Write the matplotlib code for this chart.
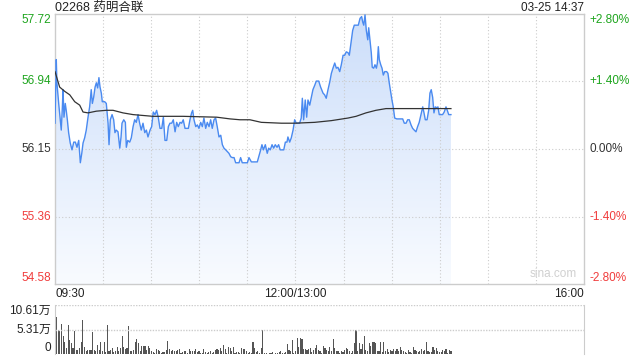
import numpy as np
import matplotlib
matplotlib.use("Agg")
import matplotlib.pyplot as plt
from matplotlib.patches import Polygon

plt.rcParams['font.family'] = ['Liberation Sans', 'Noto Sans CJK SC', 'DejaVu Sans']

# --- data ---
title = "02268 药明合联"
stamp = "03-25 14:37"
prev_close = 56.15
price_ticks = [57.72, 56.94, 56.15, 55.36, 54.58]
pct_ticks = ["+2.80%", "+1.40%", "0.00%", "-1.40%", "-2.80%"]
time_labels = ["09:30", "12:00/13:00", "16:00"]
vol_ticks = ["10.61万", "5.31万", "0"]
vol_max = 10.61

# minutes from 09:30 (lunch break removed), price
t_price = [0.0, 0.8, 1.2, 2.3, 3.3, 3.9, 4.6, 5.0, 5.6, 6.4, 7.0, 7.7, 8.5, 9.5, 10.6,
           11.7, 12.7, 13.7, 14.8, 15.8, 16.7, 17.5, 18.5, 19.5, 20.6, 21.6, 22.6, 23.3,
           24.1, 25.0, 25.8, 26.6, 27.4, 28.1, 28.9, 29.5, 31.0, 32.0, 33.1, 33.7, 34.5,
           35.6, 36.6, 37.4, 38.2, 39.3, 40.4, 41.2, 41.8, 42.9, 43.9, 44.5, 45.4, 46.6,
           47.6, 48.7, 49.7, 50.7, 51.8, 52.8, 53.8, 54.9, 56.0, 57.0, 58.0, 59.3, 60.3,
           61.3, 62.4, 63.4, 64.4, 65.5, 66.6, 67.6, 68.6, 69.7, 70.7, 71.7, 72.8, 73.8,
           74.9, 75.9, 76.9, 78.0, 79.0, 80.0, 81.1, 82.1, 83.2, 84.2, 85.2, 85.9, 86.7,
           87.8, 88.8, 89.8, 90.9, 91.9, 92.9, 94.0, 95.0, 96.1, 97.1, 98.1, 99.2, 100.2,
           101.2, 102.3, 103.4, 104.4, 105.4, 106.5, 107.5, 108.5, 109.6, 110.6, 111.7,
           112.7, 113.7, 114.8, 115.8, 116.8, 117.9, 119.0, 120.0, 121.0, 122.5, 124.6,
           126.2, 127.1, 128.3, 129.1, 130.0, 131.2, 132.4, 133.3, 134.3, 135.4, 136.4,
           137.4, 138.5, 139.5, 140.5, 141.6, 142.7, 143.7, 144.7, 145.3, 146.4, 147.4,
           148.5, 149.5, 150.5, 151.6, 152.6, 153.6, 154.3, 155.1, 156.1, 157.0, 157.8,
           158.9, 159.9, 160.9, 162.0, 163.0, 164.5, 165.7, 167.2, 168.2, 169.2, 170.3,
           171.4, 172.4, 173.4, 174.5, 175.5, 176.5, 177.6, 178.6, 179.7, 180.7, 181.7,
           182.8, 183.6, 184.6, 185.7, 186.7, 187.8, 189.2, 190.3, 191.3, 191.9, 192.6,
           193.4, 194.2, 195.1, 195.7, 196.5, 197.3, 197.9, 198.8, 199.6, 200.5, 201.1,
           201.7, 202.3, 203.2, 204.0, 204.8, 205.7, 206.9, 207.7, 208.5, 209.4, 210.2,
           211.0, 211.9, 213.2, 214.4, 215.8, 216.9, 217.9, 219.0, 220.0, 221.0, 222.1,
           223.1, 224.1, 225.2, 226.2, 227.2, 228.3, 229.4, 230.2, 231.0, 232.1, 233.1,
           233.9, 234.7, 235.6, 236.4, 237.2, 238.1, 238.9, 239.7, 240.8, 241.8, 242.8,
           243.9, 244.7, 245.6, 247.0]
price = [56.45, 57.19, 56.92, 56.68, 56.49, 56.37, 56.64, 56.84, 56.52, 56.68, 56.60, 56.49,
         56.34, 56.22, 56.14, 56.23, 56.23, 56.17, 56.25, 55.99, 56.10, 56.22, 56.28, 56.37,
         56.52, 56.64, 56.84, 56.68, 56.75, 56.87, 56.92, 56.86, 56.98, 56.87, 56.80, 56.70,
         56.70, 56.68, 56.45, 56.20, 56.49, 56.55, 56.49, 56.34, 56.37, 56.35, 56.16, 56.29,
         56.45, 56.49, 56.46, 56.17, 56.25, 56.23, 56.28, 56.41, 56.49, 56.46, 56.55, 56.45,
         56.37, 56.45, 56.34, 56.37, 56.29, 56.37, 56.41, 56.58, 56.55, 56.60, 56.52, 56.39,
         56.39, 56.52, 56.25, 56.25, 56.41, 56.45, 56.45, 56.49, 56.35, 56.46, 56.41, 56.46,
         56.45, 56.49, 56.39, 56.39, 56.39, 56.49, 56.57, 56.60, 56.49, 56.41, 56.43, 56.39,
         56.46, 56.41, 56.51, 56.39, 56.46, 56.41, 56.49, 56.39, 56.49, 56.51, 56.41, 56.29,
         56.31, 56.20, 56.16, 56.14, 56.12, 56.10, 56.06, 56.05, 56.05, 55.99, 55.99, 55.99,
         56.05, 55.99, 55.99, 55.99, 55.99, 56.05, 56.00, 56.00, 56.00, 56.06, 56.14, 56.20,
         56.14, 56.20, 56.10, 56.16, 56.14, 56.20, 56.16, 56.20, 56.17, 56.20, 56.14, 56.14,
         56.14, 56.23, 56.23, 56.29, 56.23, 56.28, 56.37, 56.49, 56.45, 56.45, 56.45, 56.51,
         56.74, 56.49, 56.72, 56.52, 56.72, 56.66, 56.75, 56.84, 56.89, 56.94, 56.94, 56.87,
         56.80, 56.78, 56.74, 56.84, 56.93, 57.03, 57.09, 57.15, 57.09, 57.10, 57.05, 57.13,
         57.24, 57.24, 57.28, 57.27, 57.24, 57.38, 57.53, 57.59, 57.59, 57.59, 57.67, 57.69,
         57.63, 57.59, 57.71, 57.53, 57.42, 57.56, 57.42, 57.27, 57.10, 57.09, 57.13, 57.09,
         57.15, 57.34, 57.19, 57.13, 57.09, 57.01, 57.05, 57.05, 57.03, 56.92, 56.81, 56.72,
         56.64, 56.51, 56.50, 56.50, 56.50, 56.50, 56.45, 56.45, 56.49, 56.49, 56.43, 56.39,
         56.37, 56.35, 56.41, 56.46, 56.55, 56.64, 56.57, 56.49, 56.49, 56.60, 56.80, 56.84,
         56.75, 56.57, 56.64, 56.63, 56.64, 56.55, 56.55, 56.55, 56.58, 56.64, 56.60, 56.55,
         56.55]

# average price line
t_avg = [0.0, 2.9, 6.1, 9.2, 12.3, 15.4, 17.5, 20.6, 25.8, 32.0, 36.2, 42.4, 48.7, 54.9,
         61.1, 79.8, 100.9, 109.2, 115.4, 121.6, 128.7, 141.2, 149.5, 162.0, 172.4, 182.8,
         187.8, 194.0, 200.2, 206.5, 212.7, 223.1, 247.0]
avg = [57.05, 56.87, 56.82, 56.78, 56.70, 56.66, 56.58, 56.57, 56.59, 56.60, 56.60, 56.57,
       56.55, 56.54, 56.53, 56.53, 56.52, 56.50, 56.49, 56.49, 56.46, 56.45, 56.45, 56.46,
       56.48, 56.51, 56.53, 56.57, 56.60, 56.62, 56.62, 56.62, 56.62]

# per-minute volume, in 万 shares
volume = [10.6, 8.1, 5.2, 4.9, 6.5, 3.8, 2.7, 1.4, 6.3, 3.1, 2.4, 1.3, 4.9, 0.8, 0.9, 1.3,
          2.5, 7.4, 1.6, 0.6, 0.8, 0.9, 0.8, 4.7, 0.9, 0.6, 2.0, 0.9, 2.7, 0.6, 2.5, 0.4,
          6.3, 0.6, 0.9, 1.4, 0.4, 0.6, 1.6, 0.6, 1.3, 3.9, 1.6, 1.1, 1.3, 6.1, 0.6, 0.6,
          0.8, 2.7, 3.2, 2.4, 0.6, 1.8, 1.8, 1.8, 0.9, 1.8, 1.3, 0.6, 0.4, 0.2, 1.1, 0.8,
          0.6, 0.2, 0.4, 0.4, 0.8, 2.9, 1.1, 0.6, 0.9, 0.6, 0.7, 0.9, 1.1, 0.2, 0.4, 0.7,
          0.6, 0.2, 1.1, 0.6, 0.7, 0.6, 1.1, 0.4, 0.7, 0.2, 0.2, 1.1, 0.4, 0.2, 0.4, 0.6,
          0.2, 0.4, 0.9, 1.1, 0.9, 1.3, 0.6, 2.0, 1.1, 0.2, 1.6, 1.4, 0.6, 1.6, 0.2, 0.4,
          0.4, 0.2, 1.3, 1.1, 1.1, 0.6, 0.2, 0.4, 0.2, 2.7, 1.3, 0.4, 0.6, 0.2, 1.4, 5.2,
          0.2, 0.2, 0.1, 0.2, 0.2, 0.4, 0.1, 0.2, 0.2, 0.4, 0.6, 0.2, 0.2, 0.4, 2.2, 0.9,
          0.6, 3.1, 0.2, 0.7, 3.4, 1.6, 3.4, 3.2, 1.1, 1.1, 0.8, 1.1, 1.3, 0.4, 0.9, 1.3,
          2.0, 0.8, 0.6, 0.2, 1.8, 1.3, 0.8, 0.6, 1.6, 0.6, 3.2, 1.3, 0.6, 0.7, 0.2, 0.6,
          0.4, 0.9, 1.3, 1.1, 0.6, 0.2, 0.6, 2.4, 5.2, 0.6, 2.4, 1.1, 2.2, 3.8, 0.9, 0.6,
          2.4, 1.8, 2.6, 2.5, 2.4, 0.6, 0.7, 2.7, 0.4, 2.6, 0.6, 1.1, 0.4, 0.9, 0.6, 1.1,
          0.6, 1.1, 0.6, 1.6, 0.9, 0.6, 0.4, 0.2, 0.9, 0.4, 0.2, 1.6, 0.9, 0.6, 0.4, 0.6,
          1.1, 0.6, 0.9, 2.5, 0.6, 0.4, 0.4, 1.6, 0.9, 1.4, 0.6, 0.4, 0.4, 0.9, 0.6, 1.1,
          0.2, 0.9, 0.6]

GREEN = '#1ea51e'
RED = '#f03c3c'
GRID = '#cccccc'

fig = plt.figure(figsize=(6.4, 3.6), dpi=100)
ax = fig.add_axes([55 / 640, 1 - 284 / 360, 529 / 640, 270 / 360])
axv = fig.add_axes([55 / 640, 1 - 354 / 360, 529 / 640, 49 / 360])

ymin, ymax = price_ticks[-1], price_ticks[0]
ax.set_xlim(0, 330)
ax.set_ylim(ymin, ymax)

# grid
for m in range(30, 330, 30):
    ax.axvline(m, color=GRID, lw=0.8, ls=(0, (1, 2)), zorder=2)
for p in price_ticks[1:-1]:
    ax.axhline(p, color=GRID, lw=0.8, ls=(0, (1, 2)), zorder=2)

# gradient fill under the price line
verts = [(t_price[0], ymin)] + list(zip(t_price, price)) + [(t_price[-1], ymin)]
poly = Polygon(verts, closed=True, facecolor='none', edgecolor='none')
ax.add_patch(poly)
grad = np.linspace(0, 1, 256).reshape(-1, 1)
top_c = np.array([0.80, 0.87, 0.98])
bot_c = np.array([0.975, 0.985, 1.0])
img = top_c * (1 - grad[..., None]) + bot_c * grad[..., None]
im = ax.imshow(img, extent=[0, 330, ymin, ymax], aspect='auto', origin='upper', zorder=1)
im.set_clip_path(poly)

ax.plot(t_price, price, color='#4a8af0', lw=1.0, zorder=3)
ax.plot(t_avg, avg, color='#333333', lw=0.9, zorder=4)

ax.set_xticks([])
ax.set_yticks([])
for s in ax.spines.values():
    s.set_color(GRID)
    s.set_linewidth(1)

# price & percent labels
ytr = ax.get_yaxis_transform()
colors = [GREEN, GREEN, '#333333', RED, RED]
for i, (p, pct, c) in enumerate(zip(price_ticks, pct_ticks, colors)):
    va = 'top' if i == 0 else ('bottom' if i == len(price_ticks) - 1 else 'center')
    ax.text(-0.008, p, f"{p:.2f}", transform=ytr, ha='right', va=va, color=c, fontsize=8.5)
    ax.text(1.011, p, pct, transform=ytr, ha='left', va=va, color=c, fontsize=8.5)

ax.text(0, 1.023, title, transform=ax.transAxes, ha='left', va='center', fontsize=9, color='#222222')
ax.text(1, 1.023, stamp, transform=ax.transAxes, ha='right', va='center', fontsize=8.5, color='#222222')

# time labels
xtr = ax.get_xaxis_transform()
ax.text(0, -0.015, time_labels[0], transform=xtr, ha='left', va='top', fontsize=8.5, color='#222222')
ax.text(150, -0.015, time_labels[1], transform=xtr, ha='center', va='top', fontsize=8.5, color='#222222')
ax.text(330, -0.015, time_labels[2], transform=xtr, ha='right', va='top', fontsize=8.5, color='#222222')

ax.text(0.942, 0.015, "sina.com", transform=ax.transAxes, ha='center', va='bottom',
        fontsize=8.5, color='#d0d0d0')

# volume panel
vol_t = np.arange(len(volume)) * (t_price[-1] / (len(volume) - 1))
axv.bar(vol_t, volume, width=0.7, color='#555555', linewidth=0)
axv.set_xlim(0, 330)
axv.set_ylim(0, vol_max)
axv.axhline(vol_max, color=GRID, lw=1, ls=(0, (1, 1)))
axv.axhline(vol_max / 2, color=GRID, lw=1, ls=(0, (1, 1)))
axv.set_xticks([])
axv.set_yticks([])
axv.spines['top'].set_visible(False)
axv.spines['bottom'].set_visible(False)
axv.spines['left'].set_color(GRID)
axv.spines['right'].set_color(GRID)

vtr = axv.get_yaxis_transform()
for v, lab in zip([vol_max, vol_max / 2, 0], vol_ticks):
    va = 'top' if v == vol_max else ('bottom' if v == 0 else 'center')
    axv.text(-0.008, v, lab, transform=vtr, ha='right', va=va, fontsize=8.5, color='#222222')

fig.savefig("out.png", dpi=100)
